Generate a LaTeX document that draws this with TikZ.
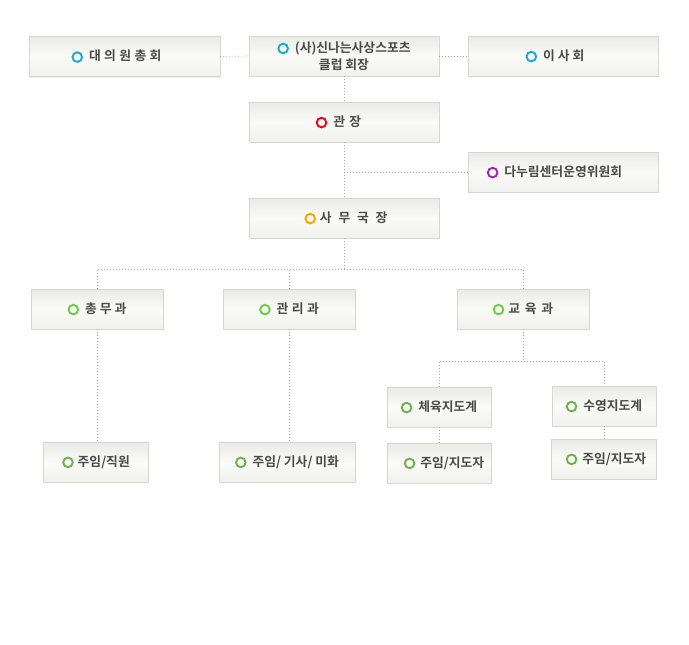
\documentclass[tikz,border=0pt]{standalone}
\usepackage{fontspec}
\newfontfamily\kr{Noto Sans CJK KR}[BoldFont={* Bold}]
\usetikzlibrary{shadows}
\definecolor{boxtop}{HTML}{EAEAE6}
\definecolor{boxmid}{HTML}{FAFAF8}
\definecolor{boxbot}{HTML}{F0F0EC}
\definecolor{boxline}{HTML}{D6D6D2}
\definecolor{txt}{HTML}{4A4A4A}
\definecolor{dotc}{HTML}{A8A8A8}
\definecolor{mkcyan}{HTML}{1BA9CD}
\definecolor{mkred}{HTML}{E8001C}
\definecolor{mkpurple}{HTML}{A51EC4}
\definecolor{mkorange}{HTML}{F7A600}
\definecolor{mkgreen}{HTML}{66D13B}
\definecolor{mkgreenb}{HTML}{6CB24A}
\newcommand\mk[2]{\tikz[baseline=-0.55ex]\draw[#1,line width=1.9pt] (0,0) circle (4.8pt);\hspace{#2}}
\newcommand\kgap[1]{\hspace{#1}}
\begin{document}
\begin{tikzpicture}[x=1pt,y=-1pt,
  orgbox/.style={draw=boxline, line width=0.6pt, top color=boxtop, bottom color=boxbot, middle color=boxmid,
    inner sep=0pt, minimum height=40pt, font=\kr\bfseries\fontsize{12.8}{17}\selectfont, text=txt, align=center,
    drop shadow={shadow xshift=0pt, shadow yshift=-1pt, fill=black, opacity=0.07}},
  wide/.style={orgbox, minimum width=190pt},
  mid/.style={orgbox, minimum width=132pt},
  small/.style={orgbox, minimum width=104pt},
  dotline/.style={draw=dotc, line width=0.7pt, dash pattern=on 1pt off 2pt}]
\useasboundingbox (0,0) rectangle (689,645);

\node[wide, minimum width=191pt] (dae) at (124.5,56.5) {\mk{mkcyan}{6pt}대\kgap{3.4pt}의\kgap{3.4pt}원\kgap{3.4pt}총\kgap{3.4pt}회\hspace{16pt}};
\node[wide] (hoe) at (344,56) {\mk{mkcyan}{6pt}(사)신나는사상스포츠\hspace{16pt}\\클럽 회장};
\node[wide] (isa) at (563,56) {\mk{mkcyan}{6pt}이\kgap{3pt}사\kgap{3pt}회\hspace{16pt}};
\node[wide] (gwan) at (344,122) {\mk{mkred}{6pt}관\kgap{4.4pt}장\hspace{11pt}};
\node[wide] (danu) at (563,172) {\mk{mkpurple}{6pt}다누림센터운영위원회\hspace{17pt}};
\node[wide] (samu) at (344,218) {\hspace{4pt}\mk{mkorange}{4pt}사\kgap{6.8pt}무\kgap{6.8pt}국\kgap{6.8pt}장};

\node[mid] (chong) at (97,309) {\mk{mkgreen}{6pt}총\kgap{3pt}무\kgap{3pt}과};
\node[mid] (gwanri) at (289,309) {\mk{mkgreen}{6pt}관\kgap{3.4pt}리\kgap{3.4pt}과};
\node[mid] (gyo) at (523,309) {\mk{mkgreen}{4pt}교\kgap{4.8pt}육\kgap{4.8pt}과};

\node[small] (che) at (439,407) {\mk{mkgreenb}{6pt}체육지도계};
\node[small] (jl) at (439,463) {\hspace{10pt}\mk{mkgreenb}{5pt}주임/지도자};
\node[small] (su) at (604,406) {\mk{mkgreenb}{6pt}수영지도계};
\node[small, minimum width=105pt] (jr) at (604,459) {\hspace{4pt}\mk{mkgreenb}{5pt}주임/지도자};
\node[small, minimum width=105pt] (jw) at (96,462) {\mk{mkgreenb}{4pt}주임/직원};
\node[orgbox, minimum width=136pt] (jg) at (287,462) {\mk{mkgreenb}{6pt}주임/ 기사/ 미화};

\coordinate (bus1) at (344,269);
\coordinate (bus2) at (523,361);

\draw[dotline] (dae.east) -- (hoe.west);
\draw[dotline] (hoe.east) -- (isa.west);
\draw[dotline] (hoe.south) -- (gwan.north);
\draw[dotline] (gwan.south) -- (samu.north);
\draw[dotline] (gwan.south |- danu.west) -- (danu.west);
\draw[dotline] (samu.south) -- (bus1);
\draw[dotline] (chong.north) -- (chong.north |- bus1) -- (gyo.north |- bus1) -- (gyo.north);
\draw[dotline] (gwanri.north) -- (gwanri.north |- bus1);
\draw[dotline] (chong.south) -- (jw.north -| chong.south);
\draw[dotline] (gwanri.south) -- (jg.north -| gwanri.south);
\draw[dotline] (gyo.south) -- (bus2);
\draw[dotline] (che.north) -- (che.north |- bus2) -- (su.north |- bus2) -- (su.north);
\draw[dotline] (che.south) -- (jl.north);
\draw[dotline] (su.south) -- (jr.north);
\end{tikzpicture}
\end{document}
